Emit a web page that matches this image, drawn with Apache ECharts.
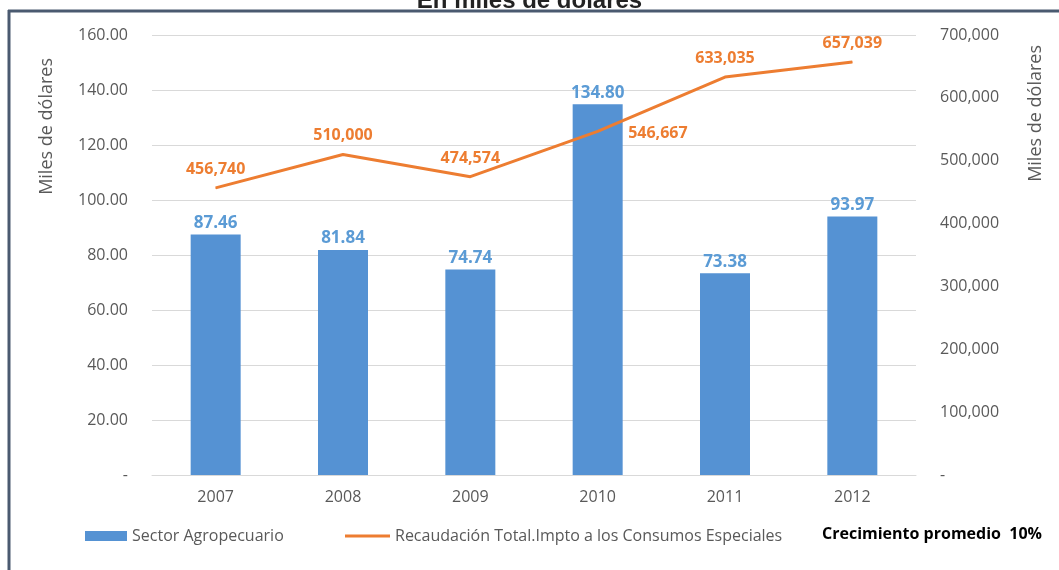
<!DOCTYPE html>
<html>
<head>
<meta charset="utf-8">
<script src="https://cdn.jsdelivr.net/npm/echarts@6/dist/echarts.min.js"></script>
<style>html,body{margin:0;padding:0;background:#fff;}#c{width:1059px;height:570px;}</style>
</head>
<body>
<div id="c"></div>
<script>
const categories = ['2007','2008','2009','2010','2011','2012'];
const sectorAgro = [87.46, 81.84, 74.74, 134.80, 73.38, 93.97];
const recaudacion = [456740, 510000, 474574, 546667, 633035, 657039];
const leftTicks = [0, 20, 40, 60, 80, 100, 120, 140, 160];
const rightTicks = [0, 100000, 200000, 300000, 400000, 500000, 600000, 700000];

const FONT = '"Open Sans", "Noto Sans", sans-serif';
const chart = echarts.init(document.getElementById('c'));
const fmtNum = v => v.toLocaleString('en-US');
const S1 = 'Sector Agropecuario';
const S2 = 'Recaudación Total.Impto a los Consumos Especiales';
const legendText = {fontFamily: FONT, fontSize: 16, color: '#595959'};

chart.setOption({
  animation: false,
  title: {
    text: 'En miles de dólares', left: 'center', top: -16,
    textStyle: {fontFamily: 'Liberation Sans, Arial', fontSize: 24, fontWeight: 'bold', color: '#222'}
  },
  grid: {left: 152, right: 143, top: 35, bottom: 95},
  legend: [
    {left: 80, top: 523, itemWidth: 42, itemHeight: 10, itemGap: 5, textStyle: legendText,
      data: [{name: S1, icon: 'rect'}]},
    {left: 340, top: 523, itemWidth: 45, itemHeight: 3, itemGap: 5, textStyle: legendText,
      data: [{name: S2, icon: 'rect'}]}
  ],
  xAxis: {
    type: 'category', data: categories,
    axisLine: {lineStyle: {color: '#d9d9d9'}},
    axisTick: {show: false},
    axisLabel: {fontFamily: FONT, fontSize: 16, color: '#595959', margin: 14}
  },
  yAxis: [
    {
      type: 'value', min: leftTicks[0], max: leftTicks[leftTicks.length-1], interval: 20,
      axisLine: {show: false}, axisTick: {show: false},
      splitLine: {lineStyle: {color: '#d9d9d9'}},
      axisLabel: {fontFamily: FONT, fontSize: 16, color: '#595959', margin: 24,
        formatter: v => v === 0 ? '-' : v.toFixed(2)}
    },
    {
      type: 'value', min: rightTicks[0], max: rightTicks[rightTicks.length-1], interval: 100000,
      axisLine: {show: false}, axisTick: {show: false}, splitLine: {show: false},
      axisLabel: {fontFamily: FONT, fontSize: 16, color: '#595959', margin: 24,
        formatter: v => v === 0 ? '-' : fmtNum(v)}
    }
  ],
  series: [
    {
      name: S1, type: 'bar', yAxisIndex: 0, barWidth: 50,
      data: sectorAgro,
      itemStyle: {color: '#5592d3'},
      label: {show: true, position: 'top', distance: 3, fontFamily: FONT, fontSize: 17, fontWeight: 'bold', color: '#5b9bd5',
        formatter: p => p.value.toFixed(2)}
    },
    {
      name: S2, type: 'line', yAxisIndex: 1,
      data: recaudacion.map((v, i) => i === 3 ? {value: v, label: {position: 'right', distance: 30, offset: [0, 2]}} : v),
      symbol: 'circle', symbolSize: 1, showSymbol: true,
      lineStyle: {color: '#ed7d31', width: 3},
      itemStyle: {color: '#ed7d31'},
      label: {show: true, position: 'top', distance: 10, fontFamily: FONT, fontSize: 16, fontWeight: 'bold', color: '#ed7d31',
        formatter: p => fmtNum(p.value)}
    }
  ],
  graphic: [
    {type: 'text', left: 38, top: 58, rotation: Math.PI/2, style: {text: 'Miles de dólares', fontFamily: FONT, fontSize: 18, fill: '#595959'}},
    {type: 'text', left: 1027, top: 45, rotation: Math.PI/2, style: {text: 'Miles de dólares', fontFamily: FONT, fontSize: 18, fill: '#595959'}},
    {type: 'text', left: 822, top: 526, style: {text: 'Crecimiento promedio  10%', fontFamily: FONT, fontSize: 16, fontWeight: 'bold', fill: '#000'}},
    {type: 'line', shape: {x1: 8, y1: 11, x2: 1059, y2: 11}, style: {stroke: '#4a5a70', lineWidth: 3}},
    {type: 'line', shape: {x1: 9, y1: 10, x2: 9, y2: 570}, style: {stroke: '#4a5a70', lineWidth: 3}}
  ]
});
</script>
</body>
</html>
